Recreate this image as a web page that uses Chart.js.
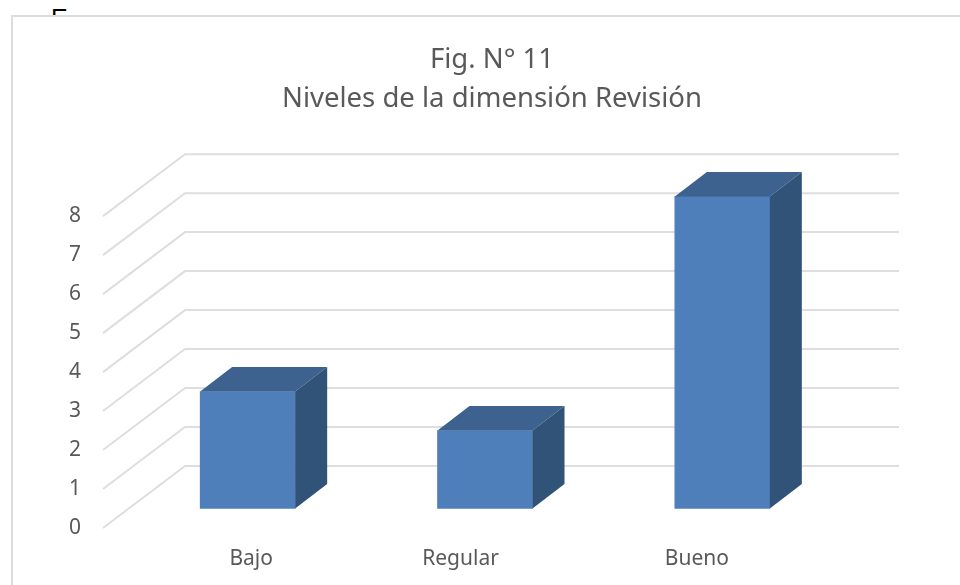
<!DOCTYPE html>
<html><head><meta charset="utf-8">
<script src="https://cdn.jsdelivr.net/npm/chart.js@4"></script>
<style>
html,body{margin:0;padding:0;background:#fff;overflow:hidden}
#wrap{position:relative;width:960px;height:585px}
#clip{position:absolute;left:0;top:0;width:960px;height:15px;overflow:hidden}
#clip span{position:absolute;left:51px;top:6px;font:25px/25px "Liberation Sans";color:#000}
canvas{position:absolute;left:0;top:0}
</style></head><body>
<div id="wrap"><div id="clip"><span>E</span></div><canvas id="c" width="960" height="585"></canvas></div>
<script>
const categories = ["Bajo", "Regular", "Bueno"];
const seriesValues = [3, 2, 8];
const titleLines = ["Fig. N° 11", "Niveles de la dimensión Revisión"];
const tickValues = [0, 1, 2, 3, 4, 5, 6, 7, 8];
const labelShift = [3.5, -24.5, -25.5];

const FONT = '"Noto Sans"';
const wall = {dx: 82, dy: -62, right: 899};
const bar3d = {dx: 32, dy: -24.5};

const threeD = {
  id: 'threeD',
  beforeDraw(chart) {
    const c = chart.ctx;
    c.save();
    c.strokeStyle = '#dcdcdc'; c.lineWidth = 2;
    c.beginPath(); c.moveTo(12, 585); c.lineTo(12, 16); c.lineTo(960, 16); c.stroke();
    c.restore();
  },
  beforeDatasetsDraw(chart) {
    const c = chart.ctx, y = chart.scales.y, left = chart.chartArea.left - 26;
    c.save();
    c.strokeStyle = '#dedede'; c.lineWidth = 2; c.lineJoin = 'miter';
    y.ticks.forEach(t => {
      const py = y.getPixelForValue(t.value);
      c.beginPath();
      c.moveTo(left, py);
      c.lineTo(left + wall.dx, py + wall.dy);
      c.lineTo(wall.right, py + wall.dy);
      c.stroke();
    });
    c.restore();
  },
  afterDatasetsDraw(chart) {
    const c = chart.ctx;
    c.save();
    chart.getDatasetMeta(0).data.forEach(b => {
      const l = b.x - b.width / 2, r = b.x + b.width / 2, t = b.y, btm = b.base;
      c.fillStyle = '#3d628f';
      c.beginPath();
      c.moveTo(l, t); c.lineTo(l + bar3d.dx, t + bar3d.dy); c.lineTo(r + bar3d.dx, t + bar3d.dy); c.lineTo(r, t);
      c.closePath(); c.fill();
      c.fillStyle = '#325378';
      c.beginPath();
      c.moveTo(r, t); c.lineTo(r + bar3d.dx, t + bar3d.dy); c.lineTo(r + bar3d.dx, btm + bar3d.dy); c.lineTo(r, btm);
      c.closePath(); c.fill();
    });
    c.restore();
  },
  afterDraw(chart) {
    const c = chart.ctx, x = chart.scales.x;
    c.save();
    c.font = '21px ' + FONT; c.fillStyle = '#595959';
    c.textAlign = 'center'; c.textBaseline = 'middle';
    categories.forEach((lab, i) => c.fillText(lab, x.getPixelForTick(i) + labelShift[i], 559));
    c.restore();
  }
};

new Chart(document.getElementById('c'), {
  type: 'bar',
  data: {
    labels: categories,
    datasets: [{data: seriesValues, yAxisID: 'yBars', backgroundColor: '#4e7fbb', barThickness: 95, borderWidth: 0}]
  },
  options: {
    responsive: false, animation: false,
    layout: {padding: {left: 24, right: 0, top: 0, bottom: 0}},
    plugins: {
      legend: {display: false}, tooltip: {enabled: false},
      title: {display: true, text: titleLines, color: '#595959',
        font: {family: '"Noto Sans"', size: 27.5, weight: 'normal', lineHeight: 1.418},
        padding: {top: 41, bottom: 35}}
    },
    scales: {
      x: {grid: {display: false}, border: {display: false},
        ticks: {display: false}, afterFit(s) { s.height = 57; }},
      y: {position: 'left', min: 0, max: 9.595,
        grid: {display: false}, border: {display: false},
        afterBuildTicks(s) { s.ticks = tickValues.map(v => ({value: v})); },
        afterFit(s) { s.width = 105; },
        ticks: {color: '#595959', padding: 40, font: {family: FONT, size: 21}, autoSkip: false}},
      yBars: {position: 'right', min: -0.5, max: 9.087,
        grid: {display: false}, border: {display: false},
        ticks: {display: false}, afterFit(s) { s.width = 119; }}
    }
  },
  plugins: [threeD]
});
</script></body></html>
